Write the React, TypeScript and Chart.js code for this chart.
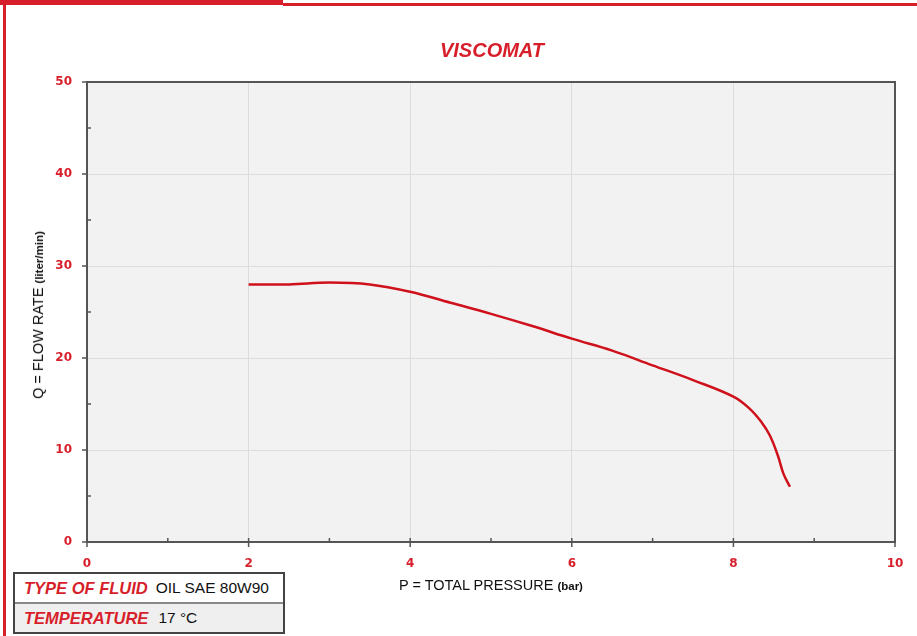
import React, { useEffect, useRef } from 'react';
import { Chart, registerables } from 'chart.js';

Chart.register(...registerables);

// Data
const pressureBar = [2, 2.5, 3, 3.5, 4, 4.5, 5, 5.5, 6, 6.5, 7, 7.5, 8, 8.2, 8.35, 8.45, 8.55, 8.62, 8.7];
const flowRateLpm = [28.0, 28.0, 28.2, 28.0, 27.2, 26.0, 24.8, 23.5, 22.1, 20.8, 19.2, 17.6, 15.8, 14.5, 13.0, 11.6, 9.4, 7.4, 6.0];

const xTickLabels = [0, 2, 4, 6, 8, 10];
const yTickLabels = [0, 10, 20, 30, 40, 50];

const RED = '#d71f2b';
const AXIS = '#555555';
const GRID = '#dcdcdc';

const framePlugin = {
  id: 'frame',
  beforeDraw(chart: any) {
    const { ctx, chartArea: a } = chart;
    ctx.save();
    ctx.fillStyle = '#f2f2f2';
    ctx.fillRect(a.left, a.top, a.right - a.left, a.bottom - a.top);
    ctx.restore();
  },
  afterDraw(chart: any) {
    const { ctx, chartArea: a, scales } = chart;
    ctx.save();
    ctx.strokeStyle = AXIS;
    ctx.lineWidth = 2;
    ctx.beginPath();
    ctx.moveTo(a.left, a.top);
    ctx.lineTo(a.right, a.top);
    ctx.lineTo(a.right, a.bottom);
    ctx.stroke();
    ctx.lineWidth = 1.5;
    for (let v = 0; v <= 10; v++) {
      const x = scales.x.getPixelForValue(v);
      const major = xTickLabels.includes(v);
      ctx.beginPath();
      ctx.moveTo(x, a.bottom + (major ? 5 : 0));
      ctx.lineTo(x, a.bottom - 4);
      ctx.stroke();
    }
    for (let v = 0; v <= 50; v += 5) {
      const y = scales.y.getPixelForValue(v);
      const major = yTickLabels.includes(v);
      ctx.beginPath();
      ctx.moveTo(a.left - (major ? 5 : 0), y);
      ctx.lineTo(a.left + (major ? 0 : 4), y);
      ctx.stroke();
    }
    ctx.restore();
  },
};

function ChartCanvas() {
  const ref = useRef<HTMLCanvasElement | null>(null);
  useEffect(() => {
    if (!ref.current) return;
    const chart = new Chart(ref.current, {
      type: 'line',
      data: {
        datasets: [
          {
            data: pressureBar.map((p, i) => ({ x: p, y: flowRateLpm[i] })),
            borderColor: '#cf111b',
            borderWidth: 2.5,
            pointRadius: 0,
            fill: false,
            tension: 0.4,
          },
        ],
      },
      options: {
        animation: false,
        responsive: false,
        devicePixelRatio: 1,
        layout: { padding: { left: 0, top: 82, right: 22, bottom: 0 } },
        plugins: { legend: { display: false }, title: { display: false }, tooltip: { enabled: false } },
        scales: {
          x: {
            type: 'linear',
            min: 0,
            max: 10,
            afterFit(s: any) {
              s.height = 94;
              s.paddingLeft = 0;
              s.paddingRight = 0;
            },
            ticks: {
              stepSize: 1,
              autoSkip: false,
              maxRotation: 0,
              padding: 15,
              color: RED,
              font: { family: 'DejaVu Sans', weight: 'bold', size: 12 },
              callback: (v: any) => (xTickLabels.includes(Number(v)) ? String(v) : ''),
            },
            grid: {
              drawTicks: false,
              color: (c: any) => (c.tick && xTickLabels.includes(c.tick.value) ? GRID : 'rgba(0,0,0,0)'),
              lineWidth: 1,
            },
            border: { display: true, color: AXIS, width: 2 },
          },
          y: {
            type: 'linear',
            min: 0,
            max: 50,
            afterFit(s: any) {
              s.width = 87;
              s.paddingTop = 0;
              s.paddingBottom = 0;
            },
            ticks: {
              stepSize: 5,
              autoSkip: false,
              padding: 15,
              color: RED,
              font: { family: 'DejaVu Sans', weight: 'bold', size: 12 },
              callback: (v: any) => (yTickLabels.includes(Number(v)) ? String(v) : ''),
            },
            grid: {
              drawTicks: false,
              color: (c: any) => (c.tick && yTickLabels.includes(c.tick.value) ? GRID : 'rgba(0,0,0,0)'),
              lineWidth: 1,
            },
            border: { display: true, color: AXIS, width: 2 },
          },
        },
      },
      plugins: [framePlugin],
    } as any);
    return () => chart.destroy();
  }, []);
  return <canvas ref={ref} width={917} height={636} style={{ position: 'absolute', left: 0, top: 0, width: 917, height: 636 }} />;
}

export default function App() {
  const font = '"Liberation Sans", Arial, sans-serif';
  return (
    <div style={{ position: 'absolute', left: 0, top: 0, width: 917, height: 636, background: '#ffffff', overflow: 'hidden', fontFamily: font }}>
      <ChartCanvas />
      {/* red frame */}
      <div style={{ position: 'absolute', left: 0, top: 0, width: 283, height: 5, background: RED }} />
      <div style={{ position: 'absolute', left: 283, top: 3, width: 634, height: 3, background: RED }} />
      <div style={{ position: 'absolute', left: 3, top: 0, width: 3, height: 636, background: RED }} />
      {/* title */}
      <div style={{ position: 'absolute', left: 392, top: 40, width: 200, textAlign: 'center', color: RED, fontSize: 20, lineHeight: '20px', fontWeight: 'bold', fontStyle: 'italic' }}>
        VISCOMAT
      </div>
      {/* axis titles */}
      <div style={{ position: 'absolute', left: 341, top: 578, width: 300, textAlign: 'center', color: '#111', fontSize: 14.5, lineHeight: '15px', whiteSpace: 'nowrap' }}>
        P = TOTAL PRESSURE <span style={{ fontSize: 11.5, fontWeight: 'bold' }}>(bar)</span>
      </div>
      <div
        style={{
          position: 'absolute',
          left: 39,
          top: 315,
          transform: 'translate(-50%, -50%) rotate(-90deg)',
          color: '#111',
          fontSize: 14.5,
          lineHeight: '15px',
          whiteSpace: 'nowrap',
        }}
      >
        Q = FLOW RATE <span style={{ fontSize: 11.5, fontWeight: 'bold' }}>(liter/min)</span>
      </div>
      {/* fluid table */}
      <div style={{ position: 'absolute', left: 13, top: 572, width: 272, height: 62, boxSizing: 'border-box', border: '2px solid #444', background: '#fff' }}>
        <div style={{ height: 30, boxSizing: 'border-box', borderBottom: '2px solid #888', display: 'flex', alignItems: 'center', paddingLeft: 9, background: '#fff' }}>
          <span style={{ color: RED, fontWeight: 'bold', fontStyle: 'italic', fontSize: 16.5 }}>TYPE OF FLUID</span>
          <span style={{ color: '#111', fontSize: 15.5, marginLeft: 8 }}>OIL SAE 80W90</span>
        </div>
        <div style={{ height: 28, display: 'flex', alignItems: 'center', paddingLeft: 9, background: '#efefef' }}>
          <span style={{ color: RED, fontWeight: 'bold', fontStyle: 'italic', fontSize: 16.5 }}>TEMPERATURE</span>
          <span style={{ color: '#111', fontSize: 15.5, marginLeft: 10 }}>17 °C</span>
        </div>
      </div>
    </div>
  );
}
